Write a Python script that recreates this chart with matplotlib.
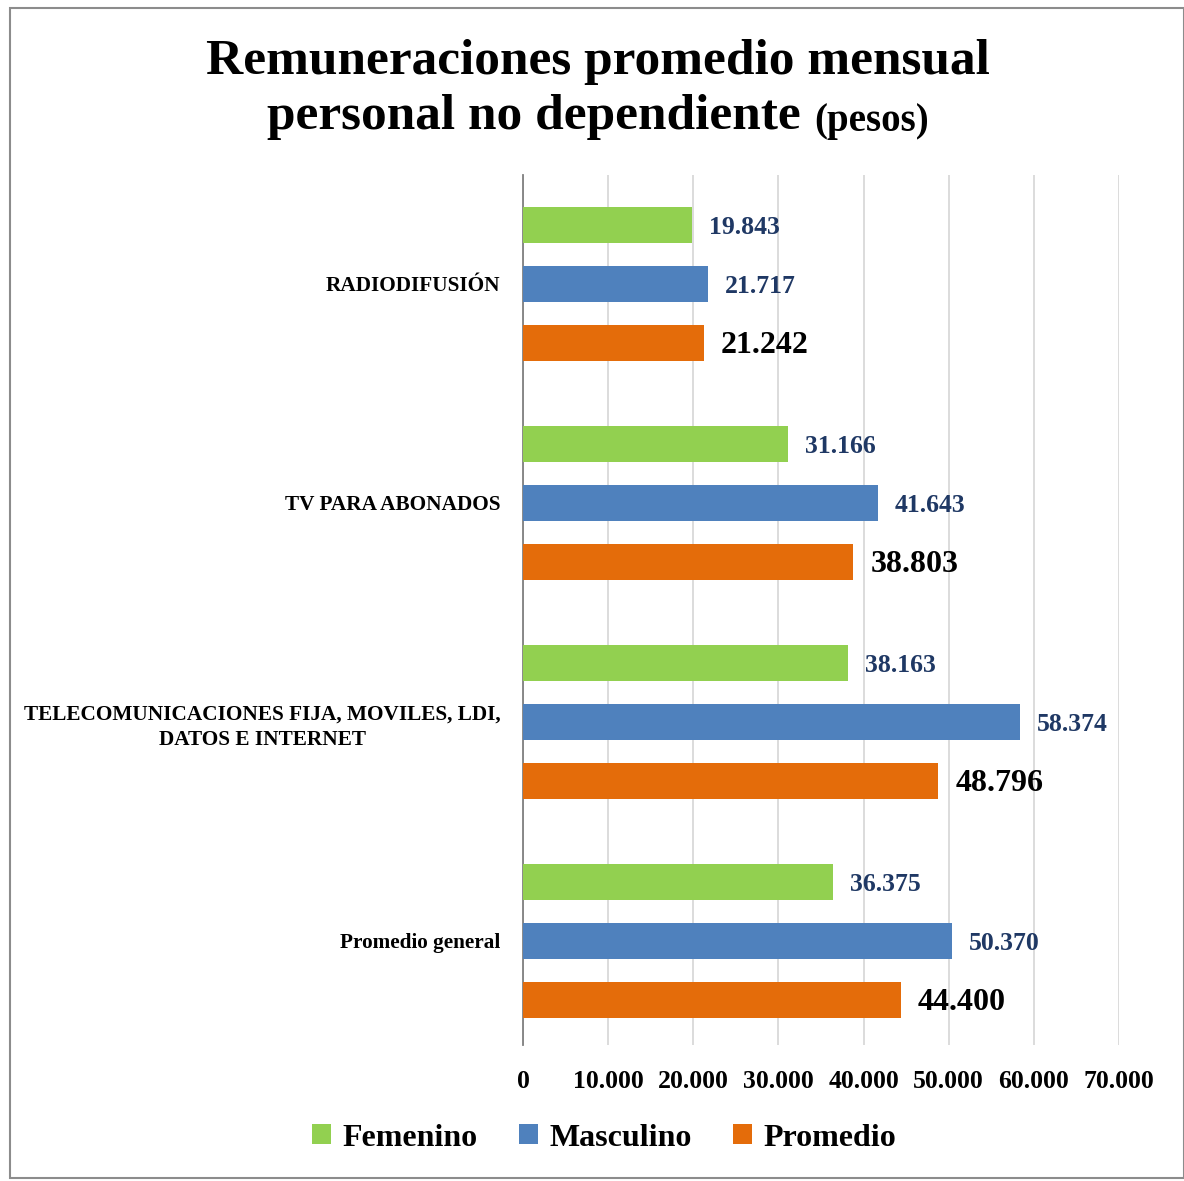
import matplotlib
matplotlib.use("Agg")
import matplotlib.pyplot as plt
from matplotlib.patches import Rectangle
import numpy as np

categories = ["RADIODIFUSIÓN", "TV PARA ABONADOS",
              "TELECOMUNICACIONES FIJA, MOVILES, LDI,\nDATOS E INTERNET", "Promedio general"]
femenino = [19843, 31166, 38163, 36375]
masculino = [21717, 41643, 58374, 50370]
promedio = [21242, 38803, 48796, 44400]
series_names = ["Femenino", "Masculino", "Promedio"]
colors = ["#92D050", "#4F81BD", "#E46C0A"]
xticks = [0, 10000, 20000, 30000, 40000, 50000, 60000, 70000]

FONT = ["Liberation Serif", "DejaVu Serif"]
plt.rcParams['font.family'] = FONT

def fmt(v):
    return f"{v:,}".replace(",", ".")

W, H = 1184, 1181
fig = plt.figure(figsize=(W/100, H/100), dpi=100)
fig.patches.append(Rectangle((10/W, 3/H), (W-10)/W, (H-11)/H, transform=fig.transFigure,
                             fill=False, edgecolor="#8c8c8c", lw=1.5))

left, right = 523/W, 1119/W
top, bottom = 175/H, 1045/H
ax = fig.add_axes([left, 1-bottom, right-left, bottom-top])

y = np.arange(len(categories))
step = 59/219
bh = 36/219
for i, (vals, c) in enumerate(zip([femenino, masculino, promedio], colors)):
    pos = y + (i-1)*step
    ax.barh(pos, vals, height=bh, color=c, label=series_names[i], zorder=3)
    for p, v in zip(pos, vals):
        if i == 2:
            ax.text(v + 2000, p + 0.012, fmt(v), va='center', ha='left', fontsize=23,
                    fontweight='bold', color='black')
        else:
            ax.text(v + 2000, p + 0.012, fmt(v), va='center', ha='left', fontsize=18.5,
                    fontweight='bold', color='#1F3864')

ax.set_xlim(0, 70000)
ax.set_ylim(3.475, -0.497)
ax.set_xticks(xticks)
ax.set_xticklabels([fmt(t) for t in xticks], fontsize=18.5, fontweight='bold')
ax.set_yticks(y)
ax.set_yticklabels(categories, fontsize=15.3, fontweight='bold', multialignment='center',
                   linespacing=1.35)
ax.tick_params(axis='y', length=0, pad=16)
ax.tick_params(axis='x', length=0, pad=18)
ax.grid(axis='x', color='#d9d9d9', lw=1.3, zorder=0)
for s in ['top', 'right', 'bottom']:
    ax.spines[s].set_visible(False)
ax.spines['left'].set_color('#808080')
ax.spines['left'].set_linewidth(1.3)

# title
fig.text(598/W, 1-62/H, "Remuneraciones promedio mensual", ha='center', va='center',
         fontsize=37, fontweight='bold')
fig.canvas.draw()
r = fig.canvas.get_renderer()
t1 = fig.text(0, 1-117/H, "personal no dependiente ", ha='left', va='center',
              fontsize=37, fontweight='bold')
t2 = fig.text(0, 1-121/H, "(pesos)", ha='left', va='center', fontsize=28, fontweight='bold')
w1 = t1.get_window_extent(r).width
w2 = t2.get_window_extent(r).width
x0 = 598 - (w1+w2)/2
t1.set_x(x0/W)
t2.set_x((x0+w1)/W)

leg = fig.legend(loc='center', bbox_to_anchor=(604/W, 1-1138/H), ncol=3, frameon=False,
                 prop={'size': 23, 'weight': 'bold'}, handlelength=0.6, handleheight=0.6,
                 handletextpad=0.35, columnspacing=1.3)

fig.savefig("out.png", dpi=100)
